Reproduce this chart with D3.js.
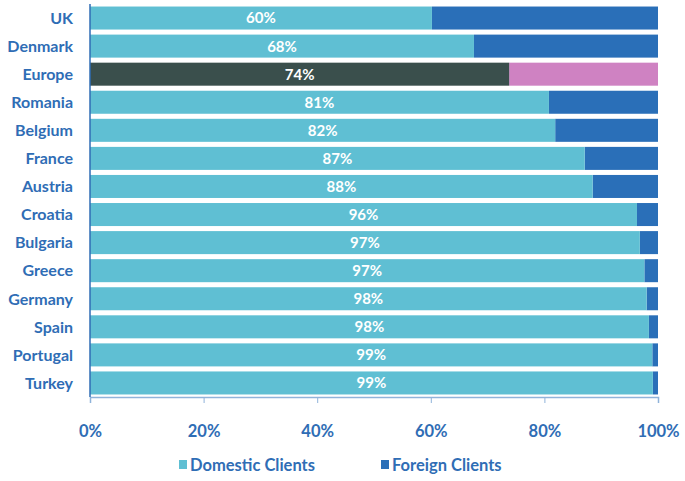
<!DOCTYPE html>
<html><head><meta charset="utf-8">
<script src="https://cdn.jsdelivr.net/npm/d3@7"></script>
<style>body{margin:0;background:#fff}svg{display:block}text{font-family:Lato,"Open Sans",sans-serif}</style>
</head><body>
<svg id="c" width="685" height="481"></svg>
<script>
const countries = ["UK","Denmark","Europe","Romania","Belgium","France","Austria","Croatia","Bulgaria","Greece","Germany","Spain","Portugal","Turkey"];
const domestic = [60.2,67.6,73.8,80.8,81.9,87.1,88.5,96.3,96.8,97.6,98.0,98.4,99.0,99.1];
const labels = ["60%","68%","74%","81%","82%","87%","88%","96%","97%","97%","98%","98%","99%","99%"];
const tickValues = [0,20,40,60,80,100];
const seriesNames = ["Domestic Clients","Foreign Clients"];

const svg = d3.select("#c");
const x = d3.scaleLinear().domain([0,100]).range([90,658]);
const y = d3.scaleBand().domain(countries).range([4,397]).paddingInner(0.18).paddingOuter(0.09);
const colD = "#5FBFD3", colF = "#2A6FB8", colED = "#3A4F4C", colEF = "#CF82C2";
const textBlue = "#2F6DB5";
const FW = 700;

const data = countries.map((c,i)=>({c, d:domestic[i], l:labels[i]}));

svg.selectAll("rect.f").data(data).join("rect")
  .attr("x", d=>x(d.d)).attr("y", d=>y(d.c))
  .attr("width", d=>x(100)-x(d.d)).attr("height", y.bandwidth())
  .attr("fill", d=>d.c==="Europe"?colEF:colF);
svg.selectAll("rect.d").data(data).join("rect")
  .attr("x", x(0)).attr("y", d=>y(d.c))
  .attr("width", d=>x(d.d)-x(0)).attr("height", y.bandwidth())
  .attr("fill", d=>d.c==="Europe"?colED:colD);
svg.selectAll("text.v").data(data).join("text")
  .attr("x", d=>(x(0)+x(d.d))/2).attr("y", d=>y(d.c)+y.bandwidth()/2)
  .attr("dy","0.36em").attr("text-anchor","middle")
  .attr("fill","#fff").attr("font-size",15).attr("font-weight",FW)
  .text(d=>d.l);

// category labels
svg.selectAll("text.c").data(countries).join("text")
  .attr("x", 73).attr("y", d=>y(d)+y.bandwidth()/2).attr("dy","0.36em")
  .attr("text-anchor","end").attr("fill",textBlue).attr("font-size",16).attr("font-weight",FW)
  .text(d=>d);

// axes
const ax = svg.append("g").attr("transform","translate(0,397)")
  .call(d3.axisBottom(x).tickValues(tickValues).tickFormat(d=>d+"%").tickSize(6).tickPadding(22));
ax.select(".domain").attr("stroke","#8FB3DA").attr("stroke-width",1.5);
ax.selectAll(".tick line").attr("stroke","#8FB3DA");
ax.selectAll(".tick text").attr("fill",textBlue).attr("font-size",16.5).attr("font-weight",FW).attr("font-family","Lato,'Open Sans',sans-serif");
svg.append("line").attr("x1",x(0)).attr("x2",x(0)).attr("y1",4).attr("y2",397).attr("stroke","#2F6DB5").attr("stroke-width",1.5);

// legend
const lg = svg.append("g");
const lx = [179, 381];
seriesNames.forEach((s,i)=>{
  lg.append("rect").attr("x",lx[i]).attr("y",460).attr("width",8).attr("height",9).attr("fill",[colD,colF][i]);
  lg.append("text").attr("x",lx[i]+11).attr("y",465).attr("dy","0.36em").attr("fill",textBlue)
    .attr("font-size",16.5).attr("font-weight",FW).text(s);
});
</script>
</body></html>
